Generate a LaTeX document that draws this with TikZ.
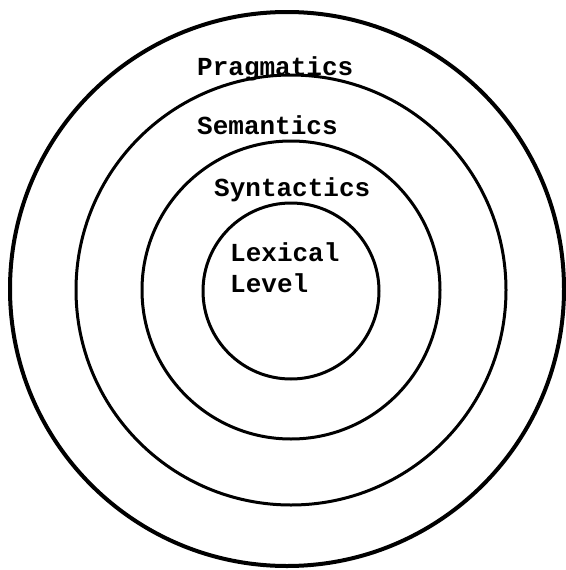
\documentclass[tikz,border=0pt]{standalone}
\usepackage{fontspec}
\setmonofont{Liberation Mono}
\usepackage{tikz}
\usetikzlibrary{positioning}

\begin{document}
\begin{tikzpicture}[
        x=1pt, y=-1pt,
        ring/.style={circle, draw, line width=3pt, inner sep=0pt},
        levelname/.style={anchor=base west, inner sep=0pt, align=left,
            font=\fontsize{26}{31}\selectfont\ttfamily\bfseries}
    ]
        \useasboundingbox (0,0) rectangle (565,570);

        % Rings, outermost first
        \node[ring, line width=4pt, minimum size=554pt] (pragring) at (287,289) {};
        \node[ring, minimum size=430pt] (semring) at (291,290) {};
        \node[ring, minimum size=298pt] (synring) at (291,290) {};
        \node[ring, minimum size=176pt] (lexring) at (291,291) {};

        % Level names (base of a two-line node is its last line)
        \node[levelname] (prag) at (197,75) {Pragmatics};
        \node[levelname] (sem) at (197,134) {Semantics};
        \node[levelname] (syn) at (214,196) {Syntactics};
        \node[levelname] (lex) at (230,292) {Lexical\\Level};
    \end{tikzpicture}
\end{document}
